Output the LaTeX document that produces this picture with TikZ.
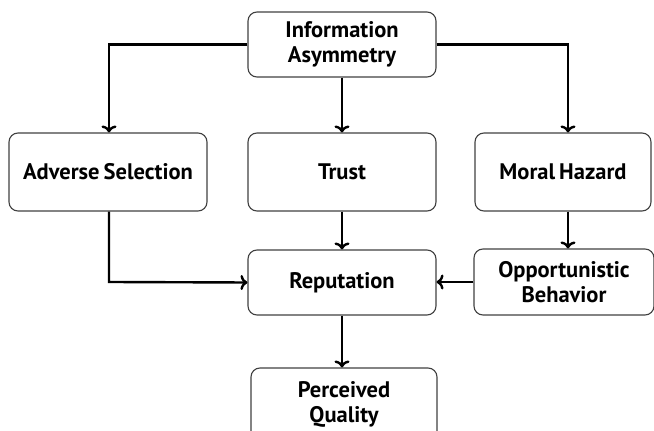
\documentclass[tikz,border=0pt]{standalone}
\usepackage{fontspec}
\setmainfont{PT Sans}
\usetikzlibrary{arrows.meta}

\begin{document}
\begin{tikzpicture}[x=1pt,y=1pt,
    box/.style={draw=black!75, line width=1.1pt, rounded corners=9pt,
      align=center, inner sep=2pt, font=\fontsize{22.5}{25}\selectfont\bfseries},
    link/.style={line width=2.4pt, -{To[length=7pt,width=15pt,line width=2.4pt]}},
  ]
  \useasboundingbox (0,0) rectangle (654,431);

  \node[box, minimum width=188pt, minimum height=65pt] (asym) at (342,386.5) {Information\\Asymmetry};
  \node[box, minimum width=198pt, minimum height=78pt] (adverse) at (108,259) {\spaceskip=0.18em Adverse Selection};
  \node[box, minimum width=188pt, minimum height=78pt] (trust) at (342,259) {Trust};
  \node[box, minimum width=176pt, minimum height=78pt] (moral) at (563,259) {\spaceskip=0.18em Moral Hazard};
  \node[box, minimum width=188pt, minimum height=65pt] (rep) at (342,148.5) {Reputation};
  \node[box, minimum width=180pt, minimum height=66pt] (opp) at (564,149) {Opportunistic\\Behavior};
  \node[box, minimum width=186pt, minimum height=72pt] (qual) at (344,27) {Perceived\\Quality};

  % corners of the bent connectors
  \coordinate (cl) at (109,386.5);
  \coordinate (cr) at (568,386.5);
  \coordinate (cb) at (109,149);

  \draw[link] (asym.west) -- (cl) -- (cl |- adverse.north);
  \draw[link] (asym.east) -- (cr) -- (cr |- moral.north);
  \draw[link] (asym) -- (trust);
  \draw[link] (trust) -- (rep);
  \draw[link] (cb |- adverse.south) -- (cb) -- (rep.west);
  \draw[link] (cr |- moral.south) -- (cr |- opp.north);
  \draw[link] (opp.west) -- (opp.west -| rep.east);
  \draw[link] (rep.south) -- (rep.south |- qual.north);
\end{tikzpicture}
\end{document}
